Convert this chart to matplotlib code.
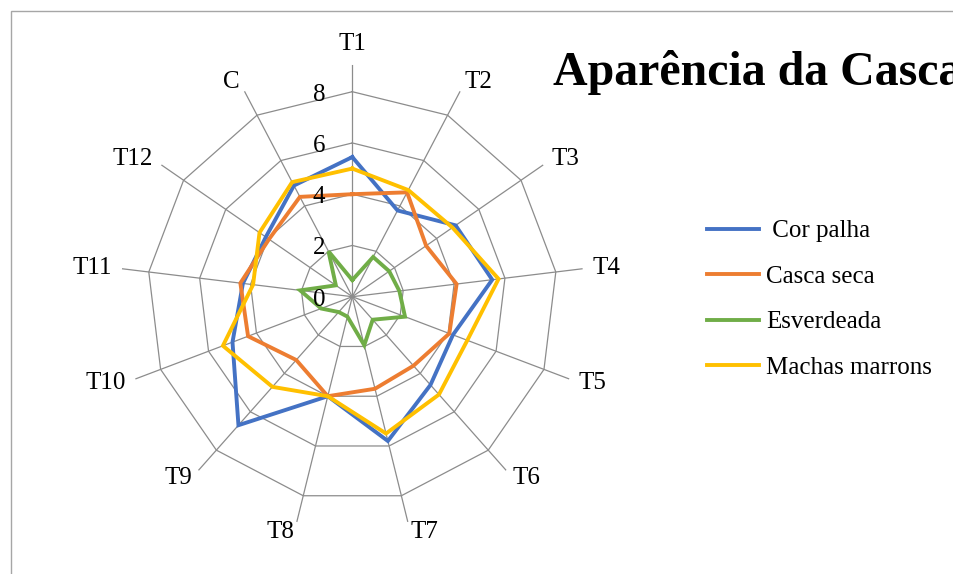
import numpy as np
import matplotlib
matplotlib.use("Agg")
import matplotlib.pyplot as plt
import matplotlib.transforms as mtransforms
from matplotlib.patches import Rectangle

plt.rcParams['font.family'] = ['Liberation Serif', 'DejaVu Serif']

# data
categories = ['T1', 'T2', 'T3', 'T4', 'T5', 'T6', 'T7', 'T8', 'T9', 'T10', 'T11', 'T12', 'C']
cor_palha = [5.45, 3.8, 4.9, 5.5, 4.2, 4.6, 5.8, 4.0, 6.7, 5.0, 4.3, 4.1, 4.9]
casca_seca = [4.0, 4.6, 3.5, 4.1, 4.05, 3.6, 3.7, 4.0, 3.3, 4.35, 4.4, 3.95, 4.4]
esverdeada = [0.65, 1.75, 1.75, 1.85, 2.2, 1.2, 1.95, 0.8, 0.8, 1.3, 2.05, 0.78, 2.0]
machas_marrons = [5.0, 4.7, 4.75, 5.75, 4.8, 5.1, 5.5, 4.0, 4.7, 5.4, 3.9, 4.4, 5.05]
radial_ticks = [0, 2, 4, 6, 8]

series = [(' Cor palha', cor_palha, '#4472C4'),
          ('Casca seca', casca_seca, '#ED7D31'),
          ('Esverdeada', esverdeada, '#70AD47'),
          ('Machas marrons', machas_marrons, '#FFC000')]

W, H = 954, 574
fig = plt.figure(figsize=(W / 100, H / 100), dpi=100)

# polar axes placed by pixel centre / spoke length
cx, cy, R = 352.3, 296.7, 232.0
r8 = 205.0
ax = fig.add_axes([(cx - R) / W, (H - cy - R) / H, 2 * R / W, 2 * R / H], projection='polar')
ax.set_theta_offset(np.pi / 2)
ax.set_theta_direction(-1)
rmax = 8 * R / r8
ax.set_ylim(0, rmax)

n = len(categories)
angles = np.linspace(0, 2 * np.pi, n, endpoint=False)
closed = np.append(angles, angles[0])

grid_col = '#8C8C8C'
ax.set_xticks(angles)
ax.set_xticklabels([])
ax.set_yticks([])
ax.xaxis.grid(True, color=grid_col, lw=0.9)
ax.yaxis.grid(False)
ax.spines['polar'].set_visible(False)
ax.tick_params(length=0)

# polygon rings
for v in radial_ticks[1:]:
    ax.plot(closed, [v] * (n + 1), color=grid_col, lw=0.9, zorder=1)

for name, vals, col in series:
    ax.plot(closed, vals + vals[:1], color=col, lw=2.8, label=name,
            solid_joinstyle='miter', zorder=3)

# category labels
r_lab = 242.0 / r8 * 8
for a, lab in zip(angles, categories):
    s = np.sin(a)
    if s > 0.05:
        ha = 'left'
    elif s < -0.05:
        ha = 'right'
    else:
        ha = 'center'
    va = 'bottom' if abs(s) < 0.05 else 'center'
    ax.text(a, r_lab, lab, ha=ha, va=va, fontsize=18)

# radial value labels
off = mtransforms.offset_copy(ax.transData, fig=fig, x=-27, y=-3, units='dots')
for v in radial_ticks:
    ax.text(0, v, str(v), transform=off, ha='right', va='center', fontsize=18)

# title runs off the right edge, as in the original
fig.text(553 / W, 1 - 85 / H, 'Aparência da Casca', fontsize=34.5, fontweight='bold',
         ha='left', va='baseline')

fig.legend(loc='upper left', bbox_to_anchor=(707 / W, 1 - 220 / H), frameon=False,
           fontsize=18, borderpad=0, handlelength=2.1, handletextpad=0.25,
           labelspacing=0.92, borderaxespad=0)

fig.patches.append(Rectangle((11 / W, -0.1), 1.2, (H - 11) / H + 0.1,
                             transform=fig.transFigure, fill=False,
                             edgecolor='#A6A6A6', lw=1))

fig.savefig('out.png', dpi=100)
